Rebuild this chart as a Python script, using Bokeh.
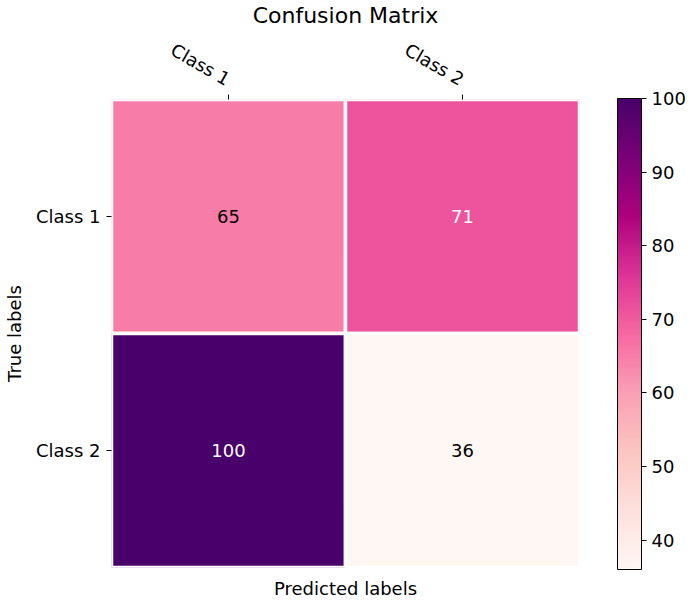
import numpy as np
from bokeh.plotting import figure
from bokeh.models import (ColumnDataSource, LinearColorMapper, ColorBar, FixedTicker,
                          Title, FactorRange)
from bokeh.transform import transform
from bokeh.core.properties import value
from bokeh.embed import file_html
from bokeh.resources import INLINE

# ---- data ----
pred_labels = ["Class 1", "Class 2"]
true_labels = ["Class 1", "Class 2"]
matrix = [[65, 71],
          [100, 36]]
cbar_ticks = [40, 50, 60, 70, 80, 90, 100]

# ---- palette (matplotlib-like RdPu, light -> dark) ----
anchors = ["#fff7f3", "#fde0dd", "#fcc5c0", "#fa9fb5", "#f768a1",
           "#dd3497", "#ae017e", "#7a0177", "#49006a"]
rgb = np.array([[int(h[i:i + 2], 16) for i in (1, 3, 5)] for h in anchors], dtype=float)
pos = np.linspace(0, 1, len(anchors))
t = np.linspace(0, 1, 256)
palette = ["#%02x%02x%02x" % tuple(int(round(np.interp(v, pos, rgb[:, c]))) for c in range(3)) for v in t]

xs, ys, vals, txt, tcol = [], [], [], [], []
vmin = min(min(r) for r in matrix)
vmax = max(max(r) for r in matrix)
thr = (vmin + vmax) / 2
for i, tl in enumerate(true_labels):
    for j, pl in enumerate(pred_labels):
        xs.append(pl)
        ys.append(tl)
        vals.append(matrix[i][j])
        txt.append(str(matrix[i][j]))
        tcol.append("white" if matrix[i][j] > thr else "black")
src = ColumnDataSource(dict(x=xs, y=ys, v=vals, t=txt, c=tcol))

mapper = LinearColorMapper(palette=palette, low=vmin, high=vmax)

FONT = "DejaVu Sans"
FS = "18px"

p = figure(x_range=FactorRange(*pred_labels), y_range=FactorRange(*reversed(true_labels)),
           x_axis_location="above", frame_width=468, frame_height=468,
           min_border_left=111, min_border_top=98, min_border_right=110, min_border_bottom=42,
           output_backend="svg", toolbar_location=None, title="Confusion Matrix")
p.title.align = "center"
p.title.text_font = FONT
p.title.text_font_size = "22px"
p.title.text_font_style = "normal"
p.title.text_color = "black"
p.title.text_line_height = 1.0
p.title.standoff = 0

p.rect(x="x", y="y", width=1, height=1, source=src,
       fill_color=transform("v", mapper), line_color="white", line_width=3.5)
p.text(x="x", y="y", text="t", source=src, text_color="c",
       text_align="center", text_baseline="middle",
       text_font=value(FONT), text_font_size=FS)

p.outline_line_color = None
p.grid.grid_line_color = None
for ax in (p.xaxis[0], p.yaxis[0]):
    ax.axis_line_color = None
    ax.major_tick_line_color = "black"
    ax.major_tick_out = 5
    ax.major_tick_in = 0
    ax.major_label_text_font = FONT
    ax.major_label_text_font_size = FS
    ax.major_label_text_color = "black"
    ax.axis_label_text_font = FONT
    ax.axis_label_text_font_size = FS
    ax.axis_label_text_font_style = "normal"
    ax.axis_label_text_color = "black"

p.xaxis.major_label_orientation = -np.pi / 6
p.xaxis.major_label_standoff = 14
p.yaxis.axis_label = "True labels"
p.yaxis.major_label_standoff = 6
p.yaxis.axis_label_standoff = 8

xl = Title(text="Predicted labels", align="center", text_font=FONT, text_color="black",
           text_font_size=FS, text_font_style="normal", standoff=17)
p.add_layout(xl, "below")

cb = ColorBar(color_mapper=mapper, ticker=FixedTicker(ticks=cbar_ticks),
              width=24, height=471, bar_line_color="black", bar_line_width=1,
              major_tick_out=5, major_tick_in=0, major_tick_line_color="black",
              major_label_text_font=FONT, major_label_text_font_size=FS,
              major_label_text_color="black",
              label_standoff=5, padding=0, margin=0, location=(38, -2))
p.add_layout(cb, "right")

open("out.html", "w").write(file_html(p, INLINE))
